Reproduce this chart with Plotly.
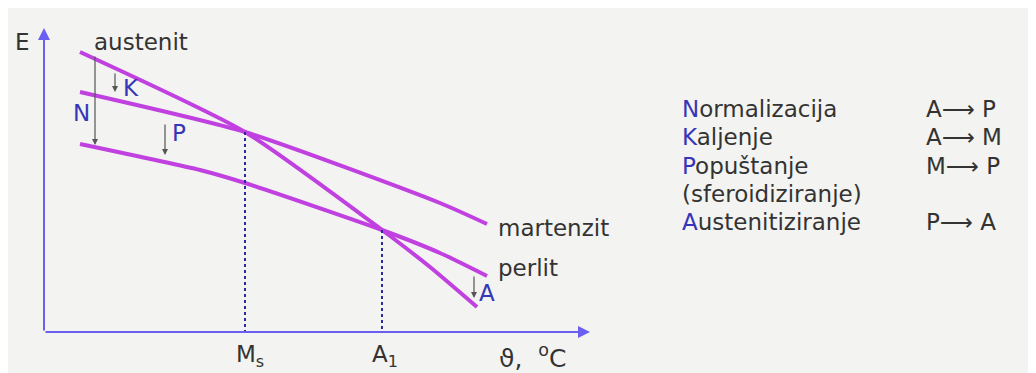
import plotly.graph_objects as go

# schematic free energy E vs temperature (arbitrary units, origin at axis corner)
austenit_T = [36, 201, 338, 386, 433]
austenit_E = [280, 200, 102, 65, 25]

martenzit_T = [36, 201, 396, 443]
martenzit_E = [240, 200, 129, 108]

perlit_T = [36, 156, 201, 338, 396, 443]
perlit_E = [188, 162, 149, 102, 79, 56]

Ms_T, Ms_E = 201, 200
A1_T, A1_E = 338, 102

processes = ["Normalizacija", "Kaljenje", "Popuštanje", "(sferoidiziranje)", "Austenitiziranje"]
transforms = ["A\u27f6 P", "A\u27f6 M", "M\u27f6 P", "", "P\u27f6 A"]

MAG = "#c040e0"
AXC = "#6a5ff0"
BLUE = "#3636b8"
TXT = "#333333"
FONT = "DejaVu Sans"
FS = 23

fig = go.Figure()

for T, E in [(austenit_T, austenit_E), (martenzit_T, martenzit_E), (perlit_T, perlit_E)]:
    fig.add_trace(go.Scatter(x=T, y=E, mode="lines", line=dict(color=MAG, width=4),
                             line_shape="spline", line_smoothing=0.6, hoverinfo="skip"))

# dotted drop lines to the temperature axis
for t, e in [(Ms_T, Ms_E), (A1_T, A1_E)]:
    fig.add_trace(go.Scatter(x=[t, t], y=[e, 0], mode="lines",
                             line=dict(color="#2a2aa0", width=2, dash="dot"), hoverinfo="skip"))

ann = []

# axes with arrow heads
ann.append(dict(x=0, y=304, ax=0, ay=0, xref="x", yref="y", axref="x", ayref="y",
                showarrow=True, arrowhead=2, arrowsize=1.2, arrowwidth=2, arrowcolor=AXC, text=""))
ann.append(dict(x=546, y=0, ax=0, ay=0, xref="x", yref="y", axref="x", ayref="y",
                showarrow=True, arrowhead=2, arrowsize=1.2, arrowwidth=2, arrowcolor=AXC, text=""))

# transformation arrows
for t, e0, e1 in [(51, 277, 187), (71, 260, 240), (121, 209, 177), (430, 57, 34)]:
    ann.append(dict(x=t, y=e1, ax=t, ay=e0, xref="x", yref="y", axref="x", ayref="y",
                    showarrow=True, arrowhead=2, arrowsize=1, arrowwidth=1.2,
                    arrowcolor="#555555", text=""))


def label(text, x, y, color=TXT, anchor="center", size=FS):
    ann.append(dict(x=x, y=y, xref="x", yref="y", text=text, showarrow=False,
                    xanchor=anchor, yanchor="middle",
                    font=dict(family=FONT, size=size, color=color)))


label("E", -22, 290)
label("austenit", 48, 290, anchor="left")
label("K", 87, 244, BLUE)
label("N", 37, 219, BLUE)
label("P", 135, 199, BLUE)
label("martenzit", 452, 104, anchor="left")
label("perlit", 452, 64, anchor="left")
label("A", 443, 39, BLUE)
label("M<sub>s</sub>", 206, -24)
label("A<sub>1</sub>", 341, -24)
label("\u03d1,  <sup>o</sup>C", 453, -24, anchor="left", size=25)

# legend of heat treatments
for i, (p, tr) in enumerate(zip(processes, transforms)):
    y = 223 - 28.3 * i
    if p.startswith("("):
        txt = p
    else:
        txt = f"<span style='color:{BLUE}'>{p[0]}</span>{p[1:]}"
    label(txt, 636, y, anchor="left")
    if tr:
        label(tr, 880, y, anchor="left")

fig.update_layout(
    width=1036, height=373,
    margin=dict(l=0, r=0, t=0, b=0),
    paper_bgcolor="#f3f3f1", plot_bgcolor="#f3f3f1",
    showlegend=False,
    xaxis=dict(range=[-36, 1000], visible=False, fixedrange=True),
    yaxis=dict(range=[-49, 324], visible=False, fixedrange=True),
    annotations=ann,
)

fig.write_html("out.html")
